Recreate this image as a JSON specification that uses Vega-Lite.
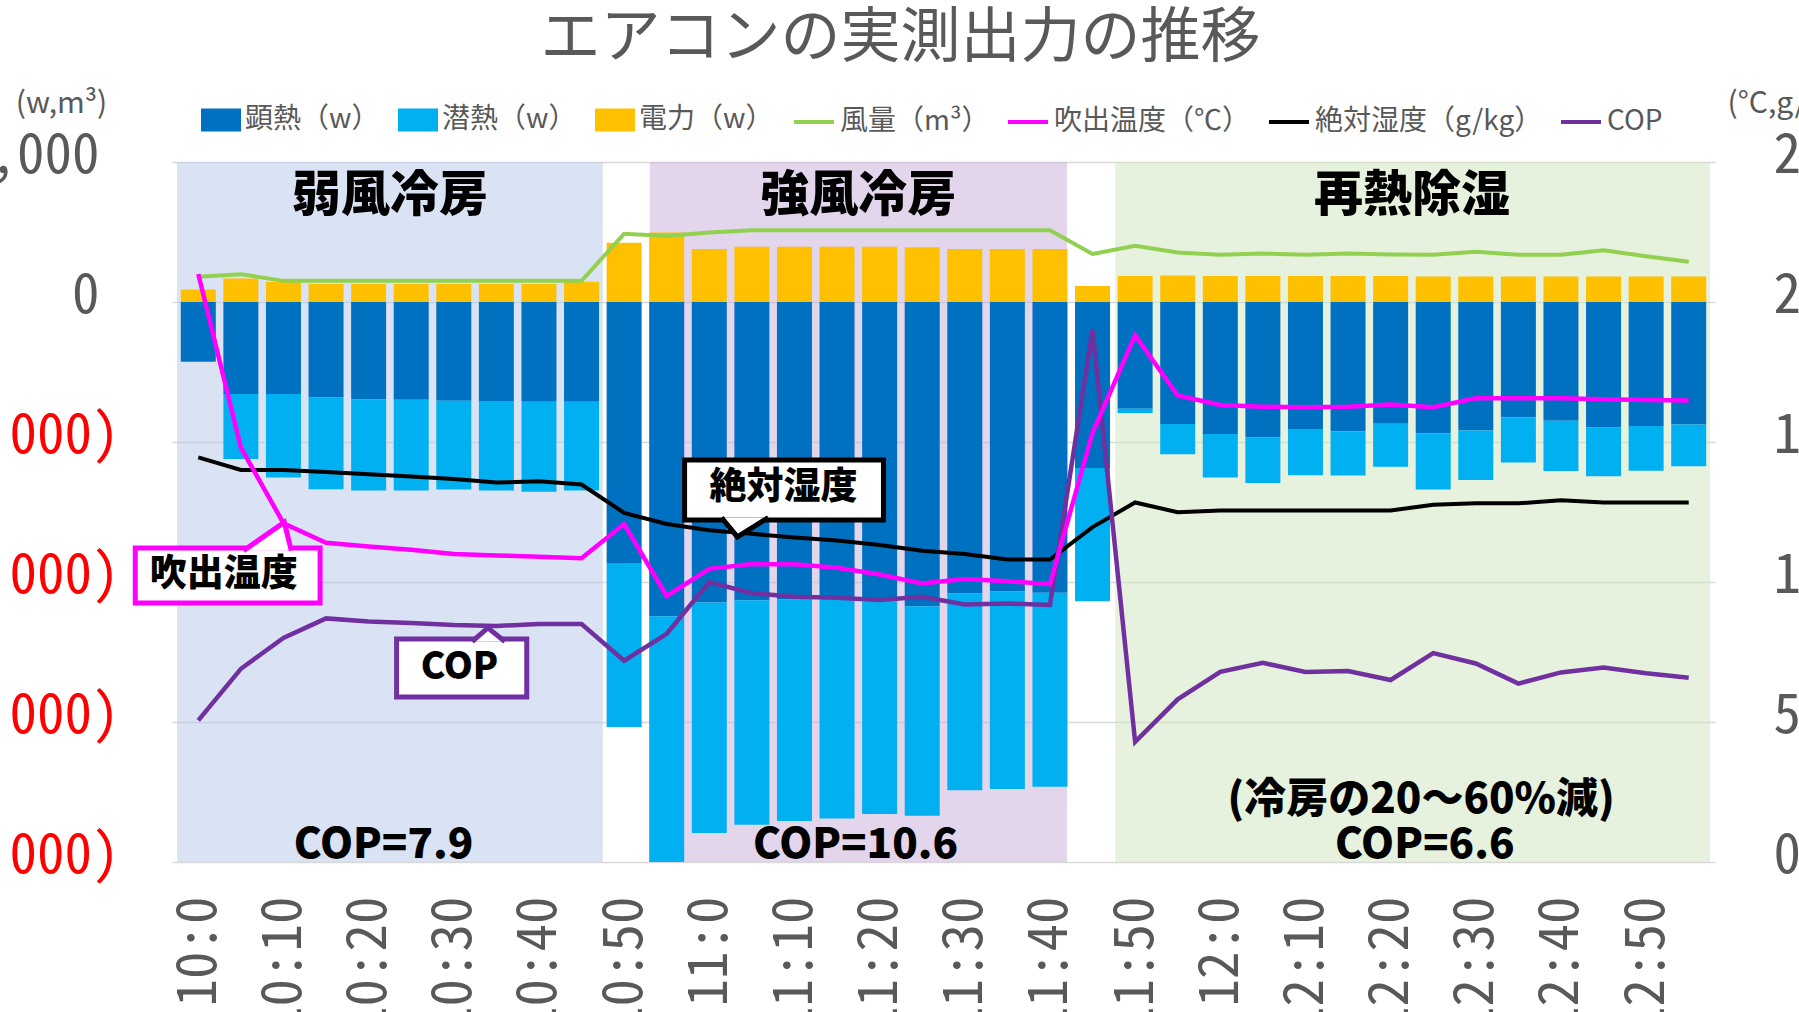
{
  "$schema": "https://vega.github.io/schema/vega-lite/v6.json",
  "width": 1543,
  "height": 700,
  "autosize": {"type": "none"},
  "padding": {"left": 172, "top": 162, "right": 84, "bottom": 150},
  "background": "white",
  "title": {
    "text": "エアコンの実測出力の推移",
    "font": "Noto Sans CJK JP",
    "fontSize": 60,
    "fontWeight": "normal",
    "color": "#595959",
    "anchor": "middle",
    "frame": "group",
    "baseline": "middle",
    "offset": 0,
    "dx": -43,
    "dy": 11
  },
  "datasets": {
    "rows": [
      {"t": "2020-01-01T10:00:00", "sens": -426, "lat": 0, "pow": 90, "flow": 180, "temp": 21.0, "hum": 14.45, "cop": 5.06},
      {"t": "2020-01-01T10:05:00", "sens": -657, "lat": -465, "pow": 167, "flow": 199, "temp": 14.8, "hum": 14.0, "cop": 6.9},
      {"t": "2020-01-01T10:10:00", "sens": -657, "lat": -596, "pow": 144, "flow": 151, "temp": 12.1, "hum": 14.0, "cop": 8.0},
      {"t": "2020-01-01T10:15:00", "sens": -683, "lat": -654, "pow": 128, "flow": 151, "temp": 11.4, "hum": 13.93, "cop": 8.7},
      {"t": "2020-01-01T10:20:00", "sens": -696, "lat": -650, "pow": 128, "flow": 151, "temp": 11.27, "hum": 13.85, "cop": 8.59},
      {"t": "2020-01-01T10:25:00", "sens": -699, "lat": -647, "pow": 128, "flow": 151, "temp": 11.15, "hum": 13.77, "cop": 8.54},
      {"t": "2020-01-01T10:30:00", "sens": -705, "lat": -635, "pow": 128, "flow": 151, "temp": 11.0, "hum": 13.68, "cop": 8.46},
      {"t": "2020-01-01T10:35:00", "sens": -708, "lat": -638, "pow": 128, "flow": 151, "temp": 10.95, "hum": 13.55, "cop": 8.43},
      {"t": "2020-01-01T10:40:00", "sens": -712, "lat": -644, "pow": 128, "flow": 151, "temp": 10.9, "hum": 13.6, "cop": 8.5},
      {"t": "2020-01-01T10:45:00", "sens": -712, "lat": -634, "pow": 144, "flow": 151, "temp": 10.85, "hum": 13.48, "cop": 8.5},
      {"t": "2020-01-01T10:50:00", "sens": -1869, "lat": -1166, "pow": 423, "flow": 487, "temp": 12.07, "hum": 12.47, "cop": 7.19},
      {"t": "2020-01-01T10:55:00", "sens": -2244, "lat": -1756, "pow": 497, "flow": 471, "temp": 9.5, "hum": 12.07, "cop": 8.15},
      {"t": "2020-01-01T11:00:00", "sens": -2147, "lat": -1645, "pow": 378, "flow": 497, "temp": 10.47, "hum": 11.85, "cop": 10.0},
      {"t": "2020-01-01T11:05:00", "sens": -2131, "lat": -1603, "pow": 394, "flow": 513, "temp": 10.64, "hum": 11.72, "cop": 9.6},
      {"t": "2020-01-01T11:10:00", "sens": -2125, "lat": -1583, "pow": 394, "flow": 513, "temp": 10.63, "hum": 11.59, "cop": 9.47},
      {"t": "2020-01-01T11:15:00", "sens": -2125, "lat": -1564, "pow": 394, "flow": 513, "temp": 10.51, "hum": 11.48, "cop": 9.44},
      {"t": "2020-01-01T11:20:00", "sens": -2138, "lat": -1519, "pow": 394, "flow": 513, "temp": 10.27, "hum": 11.32, "cop": 9.36},
      {"t": "2020-01-01T11:25:00", "sens": -2173, "lat": -1497, "pow": 391, "flow": 513, "temp": 9.95, "hum": 11.12, "cop": 9.47},
      {"t": "2020-01-01T11:30:00", "sens": -2083, "lat": -1404, "pow": 378, "flow": 513, "temp": 10.11, "hum": 11.0, "cop": 9.2},
      {"t": "2020-01-01T11:35:00", "sens": -2067, "lat": -1411, "pow": 378, "flow": 513, "temp": 10.03, "hum": 10.8, "cop": 9.23},
      {"t": "2020-01-01T11:40:00", "sens": -2077, "lat": -1385, "pow": 378, "flow": 513, "temp": 9.92, "hum": 10.8, "cop": 9.18},
      {"t": "2020-01-01T11:45:00", "sens": -1186, "lat": -952, "pow": 115, "flow": 343, "temp": 15.33, "hum": 11.96, "cop": 19.02},
      {"t": "2020-01-01T11:50:00", "sens": -763, "lat": -29, "pow": 186, "flow": 401, "temp": 18.81, "hum": 12.84, "cop": 4.29},
      {"t": "2020-01-01T11:55:00", "sens": -872, "lat": -215, "pow": 189, "flow": 353, "temp": 16.66, "hum": 12.49, "cop": 5.81},
      {"t": "2020-01-01T12:00:00", "sens": -942, "lat": -311, "pow": 186, "flow": 337, "temp": 16.32, "hum": 12.55, "cop": 6.79},
      {"t": "2020-01-01T12:05:00", "sens": -968, "lat": -324, "pow": 186, "flow": 346, "temp": 16.26, "hum": 12.55, "cop": 7.11},
      {"t": "2020-01-01T12:10:00", "sens": -907, "lat": -330, "pow": 186, "flow": 337, "temp": 16.24, "hum": 12.55, "cop": 6.79},
      {"t": "2020-01-01T12:15:00", "sens": -923, "lat": -317, "pow": 186, "flow": 346, "temp": 16.26, "hum": 12.55, "cop": 6.82},
      {"t": "2020-01-01T12:20:00", "sens": -869, "lat": -307, "pow": 186, "flow": 340, "temp": 16.34, "hum": 12.55, "cop": 6.5},
      {"t": "2020-01-01T12:25:00", "sens": -939, "lat": -401, "pow": 183, "flow": 337, "temp": 16.24, "hum": 12.76, "cop": 7.46},
      {"t": "2020-01-01T12:30:00", "sens": -917, "lat": -355, "pow": 183, "flow": 359, "temp": 16.56, "hum": 12.81, "cop": 7.09},
      {"t": "2020-01-01T12:35:00", "sens": -824, "lat": -323, "pow": 183, "flow": 337, "temp": 16.56, "hum": 12.81, "cop": 6.37},
      {"t": "2020-01-01T12:40:00", "sens": -849, "lat": -359, "pow": 183, "flow": 337, "temp": 16.56, "hum": 12.92, "cop": 6.77},
      {"t": "2020-01-01T12:45:00", "sens": -897, "lat": -347, "pow": 183, "flow": 369, "temp": 16.53, "hum": 12.84, "cop": 6.95},
      {"t": "2020-01-01T12:50:00", "sens": -885, "lat": -320, "pow": 183, "flow": 327, "temp": 16.5, "hum": 12.84, "cop": 6.74},
      {"t": "2020-01-01T12:55:00", "sens": -875, "lat": -298, "pow": 183, "flow": 288, "temp": 16.48, "hum": 12.84, "cop": 6.58}
    ],
    "bands": [
      {"mode": "弱風冷房", "start": "2020-01-01T09:57:30", "end": "2020-01-01T10:47:30", "mid": "2020-01-01T10:22:30"},
      {"mode": "強風冷房", "start": "2020-01-01T10:53:00", "end": "2020-01-01T11:42:00", "mid": "2020-01-01T11:17:30"},
      {"mode": "再熱除湿", "start": "2020-01-01T11:47:40", "end": "2020-01-01T12:57:30", "mid": "2020-01-01T12:22:30"}
    ],
    "notes": [
      {"text": "COP=7.9", "t": "2020-01-01T10:21:45", "v": 0.61},
      {"text": "COP=10.6", "t": "2020-01-01T11:17:10", "v": 0.61},
      {"text": "(冷房の20～60%減)", "t": "2020-01-01T12:23:35", "v": 2.21},
      {"text": "COP=6.6", "t": "2020-01-01T12:24:00", "v": 0.61}
    ],
    "callouts": [
      {"name": "temp", "label": "吹出温度", "t1": "2020-01-01T09:52:36", "t2": "2020-01-01T10:14:18", "v1": 11.21, "v2": 9.25, "tc": "2020-01-01T10:03:00", "vc": 10.25},
      {"name": "hum", "label": "絶対湿度", "t1": "2020-01-01T10:57:06", "t2": "2020-01-01T11:20:27", "v1": 14.36, "v2": 12.21, "tc": "2020-01-01T11:08:42", "vc": 13.35},
      {"name": "cop", "label": "COP", "t1": "2020-01-01T10:23:17", "t2": "2020-01-01T10:38:34", "v1": 7.96, "v2": 5.89, "tc": "2020-01-01T10:30:40", "vc": 6.93}
    ],
    "pointers": [
      {"name": "temp", "t": "2020-01-01T10:05:19", "v": 11.12, "vb": 11.12},
      {"name": "temp", "t": "2020-01-01T10:10:06", "v": 12.14, "vb": 11.12},
      {"name": "temp", "t": "2020-01-01T10:10:55", "v": 11.12, "vb": 11.12},
      {"name": "hum", "t": "2020-01-01T11:01:26", "v": 12.3, "vb": 12.3},
      {"name": "hum", "t": "2020-01-01T11:03:18", "v": 11.61, "vb": 12.3},
      {"name": "hum", "t": "2020-01-01T11:06:56", "v": 12.3, "vb": 12.3},
      {"name": "cop", "t": "2020-01-01T10:32:09", "v": 7.875, "vb": 7.875},
      {"name": "cop", "t": "2020-01-01T10:34:00", "v": 8.36, "vb": 7.875},
      {"name": "cop", "t": "2020-01-01T10:36:00", "v": 7.875, "vb": 7.875}
    ]
  },
  "layer": [
    {
      "layer": [
        {
          "data": {"name": "bands"},
          "mark": {"type": "rect", "opacity": 0.5},
          "encoding": {
            "x": {"field": "start", "type": "temporal", "title": null},
            "x2": {"field": "end"},
            "y": {"datum": 1000, "type": "quantitative", "title": "(w,m³)"},
            "y2": {"datum": -4000},
            "fill": {
              "field": "mode",
              "type": "nominal",
              "scale": {"domain": ["弱風冷房", "強風冷房", "再熱除湿"], "range": ["#B5C7E7", "#C5ABD9", "#CDE5BB"]},
              "legend": null
            }
          }
        },
        {
          "data": {"name": "rows"},
          "transform": [{"fold": ["sens", "lat", "pow"], "as": ["key", "w"]}],
          "mark": {"type": "bar", "size": 35},
          "encoding": {
            "x": {
              "field": "t",
              "type": "temporal",
              "title": null,
              "scale": {
                "domain": [
                  {"year": 2020, "month": 1, "date": 1, "hours": 9, "minutes": 57, "seconds": 30},
                  {"year": 2020, "month": 1, "date": 1, "hours": 12, "minutes": 57, "seconds": 30}
                ]
              },
              "axis": {
                "format": "%-H:%-M",
                "values": [
                  {"year": 2020, "month": 1, "date": 1, "hours": 10, "minutes": 0},
                  {"year": 2020, "month": 1, "date": 1, "hours": 10, "minutes": 10},
                  {"year": 2020, "month": 1, "date": 1, "hours": 10, "minutes": 20},
                  {"year": 2020, "month": 1, "date": 1, "hours": 10, "minutes": 30},
                  {"year": 2020, "month": 1, "date": 1, "hours": 10, "minutes": 40},
                  {"year": 2020, "month": 1, "date": 1, "hours": 10, "minutes": 50},
                  {"year": 2020, "month": 1, "date": 1, "hours": 11, "minutes": 0},
                  {"year": 2020, "month": 1, "date": 1, "hours": 11, "minutes": 10},
                  {"year": 2020, "month": 1, "date": 1, "hours": 11, "minutes": 20},
                  {"year": 2020, "month": 1, "date": 1, "hours": 11, "minutes": 30},
                  {"year": 2020, "month": 1, "date": 1, "hours": 11, "minutes": 40},
                  {"year": 2020, "month": 1, "date": 1, "hours": 11, "minutes": 50},
                  {"year": 2020, "month": 1, "date": 1, "hours": 12, "minutes": 0},
                  {"year": 2020, "month": 1, "date": 1, "hours": 12, "minutes": 10},
                  {"year": 2020, "month": 1, "date": 1, "hours": 12, "minutes": 20},
                  {"year": 2020, "month": 1, "date": 1, "hours": 12, "minutes": 30},
                  {"year": 2020, "month": 1, "date": 1, "hours": 12, "minutes": 40},
                  {"year": 2020, "month": 1, "date": 1, "hours": 12, "minutes": 50}
                ],
                "labelAngle": 270,
                "labelFont": "Noto Sans Mono CJK JP",
                "labelFontSize": 55,
                "labelPadding": 34,
                "labelColor": "#595959",
                "labelOverlap": false,
                "labelFlush": false,
                "grid": false,
                "ticks": false,
                "domain": false
              }
            },
            "y": {
              "field": "w",
              "type": "quantitative",
              "stack": "zero",
              "title": "(w,m³)",
              "scale": {"domain": [-4000, 1000], "nice": false, "zero": false},
              "axis": {
                "title": "(w,m³)",
                "values": [-4000, -3000, -2000, -1000, 0, 1000],
                "grid": true,
                "gridColor": "#D9D9D9",
                "gridWidth": 1.5,
                "ticks": false,
                "domain": false,
                "labelExpr": "datum.value < 0 ? '(' + format(-datum.value, ',') + ')' : format(datum.value, ',')",
                "labelColor": {"condition": {"test": "datum.value < 0", "value": "#FF0000"}, "value": "#595959"},
                "labelPadding": {"condition": {"test": "datum.value >= 0", "value": 73}, "value": 53},
                "labelFont": "Noto Sans Mono CJK JP",
                "labelFontSize": 55,
                "labelLimit": 400,
                "labelOffset": -7,
                "titleAngle": 0,
                "titleX": -111,
                "titleY": -59,
                "titleAlign": "center",
                "titleBaseline": "middle",
                "titleFont": "Noto Sans CJK JP",
                "titleFontSize": 30,
                "titleFontWeight": "normal",
                "titleColor": "#595959"
              }
            },
            "color": {
              "field": "key",
              "type": "nominal",
              "scale": {"domain": ["sens", "lat", "pow"], "range": ["#0070C0", "#00B0F0", "#FFC000"]},
              "legend": {
                "orient": "none",
                "legendX": 29,
                "legendY": -62,
                "direction": "horizontal",
                "title": null,
                "labelExpr": "datum.label == 'sens' ? '顕熱（w）' : datum.label == 'lat' ? '潜熱（w）' : '電力（w）'",
                "symbolType": "M-1,-0.575L1,-0.575L1,0.575L-1,0.575Z",
                "symbolSize": 1600,
                "symbolStrokeWidth": 0,
                "labelFont": "Noto Sans CJK JP",
                "labelFontSize": 28,
                "labelColor": "#595959",
                "labelOffset": 4,
                "labelLimit": 400,
                "columnPadding": 18
              }
            },
            "order": {"field": "key", "sort": "descending"}
          }
        },
        {
          "data": {"name": "rows"},
          "mark": {"type": "line", "strokeWidth": 4},
          "encoding": {
            "x": {"field": "t", "type": "temporal", "title": null},
            "y": {"field": "flow", "type": "quantitative", "title": "(w,m³)"},
            "stroke": {
              "datum": "風量（m³）",
              "scale": {
                "domain": ["風量（m³）", "吹出温度（℃）", "絶対湿度（g/kg）", "COP"],
                "range": ["#92D050", "#FF00FF", "#000000", "#7030A0"]
              },
              "legend": {
                "orient": "none",
                "legendX": 620,
                "legendY": -62,
                "direction": "horizontal",
                "title": null,
                "symbolType": "stroke",
                "symbolSize": 1600,
                "symbolStrokeWidth": 4,
                "labelFont": "Noto Sans CJK JP",
                "labelFontSize": 28,
                "labelColor": "#595959",
                "labelOffset": 4,
                "labelLimit": 400,
                "columnPadding": 10
              }
            }
          }
        }
      ]
    },
    {
      "layer": [
        {
          "data": {"name": "rows"},
          "mark": {"type": "line", "strokeWidth": 4},
          "encoding": {
            "x": {"field": "t", "type": "temporal", "title": null},
            "y": {"field": "hum", "type": "quantitative", "title": "(°C,g/kg)"},
            "stroke": {"datum": "絶対湿度（g/kg）"}
          }
        },
        {
          "data": {"name": "rows"},
          "mark": {"type": "line", "strokeWidth": 4.5},
          "encoding": {
            "x": {"field": "t", "type": "temporal", "title": null},
            "y": {"field": "cop", "type": "quantitative", "title": "(°C,g/kg)"},
            "stroke": {"datum": "COP"}
          }
        },
        {
          "data": {"name": "rows"},
          "mark": {"type": "line", "strokeWidth": 4.5},
          "encoding": {
            "x": {"field": "t", "type": "temporal", "title": null},
            "y": {
              "field": "temp",
              "type": "quantitative",
              "title": "(°C,g/kg)",
              "scale": {"domain": [0, 25], "nice": false},
              "axis": {
                "orient": "right",
                "title": "(°C,g/kg)",
                "values": [0, 5, 10, 15, 20, 25],
                "grid": false,
                "ticks": false,
                "domain": false,
                "labelFont": "Noto Sans Mono CJK JP",
                "labelFontSize": 55,
                "labelColor": "#595959",
                "labelPadding": 58,
                "labelAlign": "left",
                "labelOffset": -7,
                "titleAngle": 0,
                "titleX": 12,
                "titleY": -59,
                "titleAlign": "left",
                "titleBaseline": "middle",
                "titleFont": "Noto Sans CJK JP",
                "titleFontSize": 30,
                "titleFontWeight": "normal",
                "titleColor": "#595959"
              }
            },
            "stroke": {"datum": "吹出温度（℃）"}
          }
        },
        {
          "data": {"name": "bands"},
          "mark": {"type": "text", "font": "Noto Sans CJK JP", "fontWeight": 900, "fontSize": 49, "color": "#000000", "align": "center", "baseline": "middle"},
          "encoding": {
            "x": {"field": "mid", "type": "temporal", "title": null},
            "y": {"datum": 23.8, "type": "quantitative", "title": "(°C,g/kg)"},
            "text": {"field": "mode"}
          }
        },
        {
          "data": {"name": "notes"},
          "mark": {"type": "text", "font": "Noto Sans CJK JP", "fontWeight": 900, "fontSize": 42, "color": "#000000", "align": "center", "baseline": "middle"},
          "encoding": {
            "x": {"field": "t", "type": "temporal", "title": null},
            "y": {"field": "v", "type": "quantitative", "title": "(°C,g/kg)"},
            "text": {"field": "text"}
          }
        },
        {
          "data": {"name": "callouts"},
          "transform": [{"filter": "datum.name == 'temp'"}],
          "mark": {"type": "rect", "fill": "white", "stroke": "#FF00FF", "strokeWidth": 5},
          "encoding": {
            "x": {"field": "t1", "type": "temporal", "title": null},
            "x2": {"field": "t2"},
            "y": {"field": "v1", "type": "quantitative", "title": "(°C,g/kg)"},
            "y2": {"field": "v2"}
          }
        },
        {
          "data": {"name": "pointers"},
          "transform": [{"filter": "datum.name == 'temp'"}],
          "mark": {"type": "area", "fill": "white", "opacity": 1},
          "encoding": {
            "x": {"field": "t", "type": "temporal", "title": null},
            "y": {"field": "v", "type": "quantitative", "title": "(°C,g/kg)"},
            "y2": {"field": "vb"}
          }
        },
        {
          "data": {"name": "pointers"},
          "transform": [{"filter": "datum.name == 'temp'"}],
          "mark": {"type": "line", "stroke": "#FF00FF", "strokeWidth": 5, "strokeJoin": "miter"},
          "encoding": {
            "x": {"field": "t", "type": "temporal", "title": null},
            "y": {"field": "v", "type": "quantitative", "title": "(°C,g/kg)"}
          }
        },
        {
          "data": {"name": "callouts"},
          "transform": [{"filter": "datum.name == 'hum'"}],
          "mark": {"type": "rect", "fill": "white", "stroke": "#000000", "strokeWidth": 5},
          "encoding": {
            "x": {"field": "t1", "type": "temporal", "title": null},
            "x2": {"field": "t2"},
            "y": {"field": "v1", "type": "quantitative", "title": "(°C,g/kg)"},
            "y2": {"field": "v2"}
          }
        },
        {
          "data": {"name": "pointers"},
          "transform": [{"filter": "datum.name == 'hum'"}],
          "mark": {"type": "area", "fill": "white", "opacity": 1},
          "encoding": {
            "x": {"field": "t", "type": "temporal", "title": null},
            "y": {"field": "v", "type": "quantitative", "title": "(°C,g/kg)"},
            "y2": {"field": "vb"}
          }
        },
        {
          "data": {"name": "pointers"},
          "transform": [{"filter": "datum.name == 'hum'"}],
          "mark": {"type": "line", "stroke": "#000000", "strokeWidth": 5, "strokeJoin": "miter"},
          "encoding": {
            "x": {"field": "t", "type": "temporal", "title": null},
            "y": {"field": "v", "type": "quantitative", "title": "(°C,g/kg)"}
          }
        },
        {
          "data": {"name": "callouts"},
          "transform": [{"filter": "datum.name == 'cop'"}],
          "mark": {"type": "rect", "fill": "white", "stroke": "#7030A0", "strokeWidth": 5},
          "encoding": {
            "x": {"field": "t1", "type": "temporal", "title": null},
            "x2": {"field": "t2"},
            "y": {"field": "v1", "type": "quantitative", "title": "(°C,g/kg)"},
            "y2": {"field": "v2"}
          }
        },
        {
          "data": {"name": "pointers"},
          "transform": [{"filter": "datum.name == 'cop'"}],
          "mark": {"type": "area", "fill": "white", "opacity": 1},
          "encoding": {
            "x": {"field": "t", "type": "temporal", "title": null},
            "y": {"field": "v", "type": "quantitative", "title": "(°C,g/kg)"},
            "y2": {"field": "vb"}
          }
        },
        {
          "data": {"name": "pointers"},
          "transform": [{"filter": "datum.name == 'cop'"}],
          "mark": {"type": "line", "stroke": "#7030A0", "strokeWidth": 5, "strokeJoin": "miter"},
          "encoding": {
            "x": {"field": "t", "type": "temporal", "title": null},
            "y": {"field": "v", "type": "quantitative", "title": "(°C,g/kg)"}
          }
        },
        {
          "data": {"name": "callouts"},
          "mark": {"type": "text", "font": "Noto Sans CJK JP", "fontWeight": 900, "fontSize": 37, "color": "#000000", "align": "center", "baseline": "middle"},
          "encoding": {
            "x": {"field": "tc", "type": "temporal", "title": null},
            "y": {"field": "vc", "type": "quantitative", "title": "(°C,g/kg)"},
            "text": {"field": "label"}
          }
        }
      ]
    }
  ],
  "resolve": {"scale": {"y": "independent"}},
  "config": {
    "view": {"stroke": null},
    "axis": {"grid": false, "ticks": false, "domain": false}
  }
}
